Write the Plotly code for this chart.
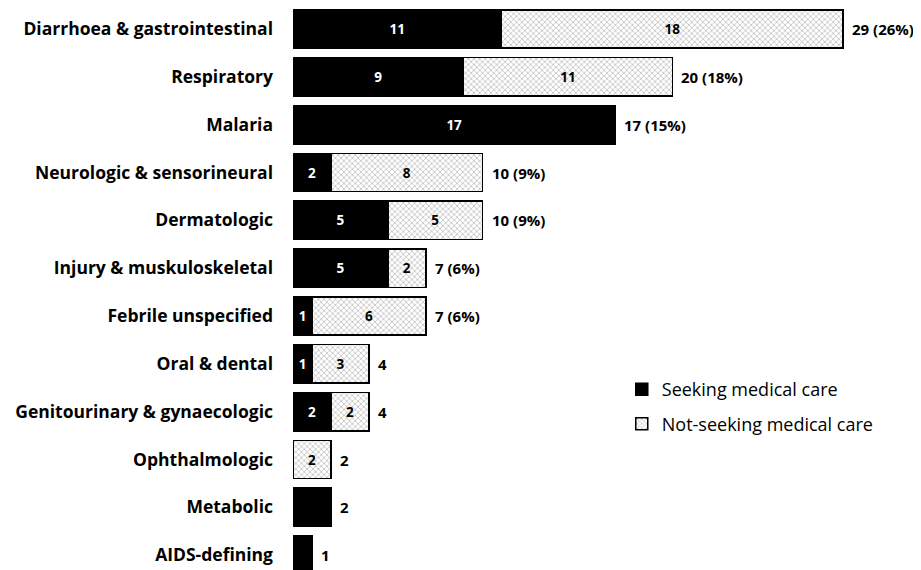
import plotly.graph_objects as go

categories = ["Diarrhoea & gastrointestinal", "Respiratory", "Malaria",
              "Neurologic & sensorineural", "Dermatologic", "Injury & muskuloskeletal",
              "Febrile unspecified", "Oral & dental", "Genitourinary & gynaecologic",
              "Ophthalmologic", "Metabolic", "AIDS-defining"]
seeking = [11, 9, 17, 2, 5, 5, 1, 1, 2, 0, 2, 1]
not_seeking = [18, 11, 0, 8, 5, 2, 6, 3, 2, 2, 0, 0]
seeking_labels = ["11", "9", "17", "2", "5", "5", "1", "1", "2", "", "", ""]
not_seeking_labels = ["18", "11", "", "8", "5", "2", "6", "3", "2", "2", "", ""]
total_labels = ["29 (26%)", "20 (18%)", "17 (15%)", "10 (9%)", "10 (9%)", "7 (6%)",
                "7 (6%)", "4", "4", "2", "2", "1"]

FONT = "Open Sans"
totals = [a + b for a, b in zip(seeking, not_seeking)]

fig = go.Figure()
fig.add_trace(go.Bar(
    y=categories, x=seeking, orientation="h", name="Seeking medical care",
    marker=dict(color="black", line=dict(color="black", width=1.5)),
    text=seeking_labels, textposition="inside",
    insidetextanchor="middle", textangle=0,
    textfont=dict(color="white", size=13.5, family=FONT, weight="bold"),
    legendgroup="a",
))
fig.add_trace(go.Bar(
    y=categories, x=not_seeking, orientation="h", name="Not-seeking medical care",
    marker=dict(color="white", line=dict(color="black", width=1.5),
                pattern=dict(shape="x", fgcolor="#7a7a7a", bgcolor="white", size=4, solidity=0.35)),
    text=not_seeking_labels, textposition="inside",
    insidetextanchor="middle", textangle=0,
    textfont=dict(color="black", size=13.5, family=FONT, weight="bold"),
    legendgroup="b",
))

for cat, tot, lab in zip(categories, totals, total_labels):
    fig.add_annotation(x=tot, y=cat, text=lab, showarrow=False, xanchor="left",
                       xshift=7, font=dict(size=15, family=FONT, color="black", weight="bold"))

fig.update_layout(
    width=913, height=562, barmode="stack", bargap=0.2,
    paper_bgcolor="white", plot_bgcolor="white",
    margin=dict(l=285, r=10, t=0, b=0),
    font=dict(family=FONT, color="black"),
    showlegend=True,
    legend=dict(x=0.532, y=0.354, xanchor="left", yanchor="top",
                font=dict(size=18, family=FONT, color="black"),
                traceorder="grouped", tracegroupgap=8, bgcolor="rgba(0,0,0,0)"),
)
fig.update_xaxes(range=[0, 32.58], visible=False)
fig.update_yaxes(categoryorder="array", categoryarray=categories,
                 range=[11.31, -0.439], showline=False, showgrid=False, zeroline=False,
                 ticks="", ticklabelstandoff=19,
                 tickfont=dict(size=17.5, family=FONT, color="black", weight="bold"))

fig.write_html("out.html")
